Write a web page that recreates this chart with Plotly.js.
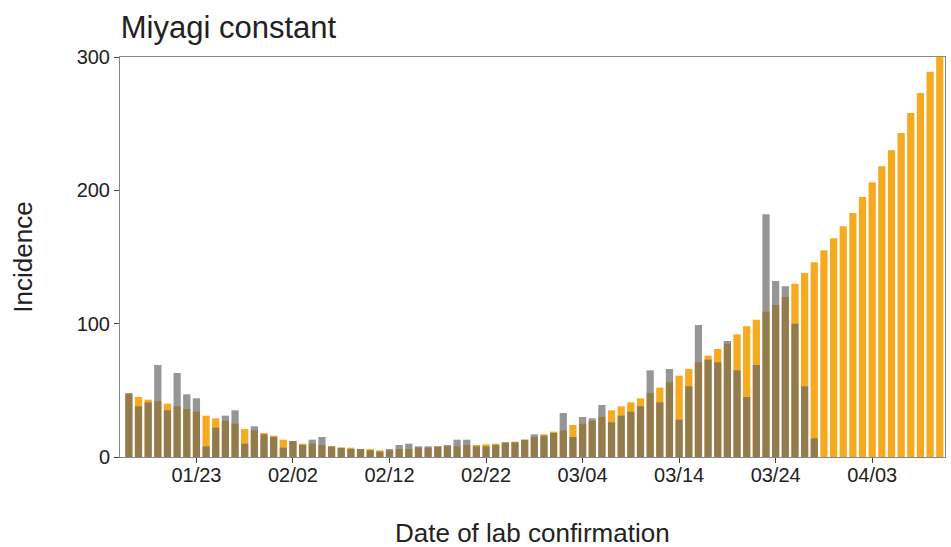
<!DOCTYPE html>
<html>
<head>
<meta charset="utf-8">
<script src="https://cdn.plot.ly/plotly-3.0.1.min.js"></script>
<style>html,body{margin:0;padding:0;background:#fff;}#chart{width:951px;height:547px;}</style>
</head>
<body>
<div id="chart"></div>
<script>
const dates = [
'2021-01-16','2021-01-17','2021-01-18','2021-01-19','2021-01-20','2021-01-21','2021-01-22','2021-01-23','2021-01-24','2021-01-25',
'2021-01-26','2021-01-27','2021-01-28','2021-01-29','2021-01-30','2021-01-31','2021-02-01','2021-02-02','2021-02-03','2021-02-04',
'2021-02-05','2021-02-06','2021-02-07','2021-02-08','2021-02-09','2021-02-10','2021-02-11','2021-02-12','2021-02-13','2021-02-14',
'2021-02-15','2021-02-16','2021-02-17','2021-02-18','2021-02-19','2021-02-20','2021-02-21','2021-02-22','2021-02-23','2021-02-24',
'2021-02-25','2021-02-26','2021-02-27','2021-02-28','2021-03-01','2021-03-02','2021-03-03','2021-03-04','2021-03-05','2021-03-06',
'2021-03-07','2021-03-08','2021-03-09','2021-03-10','2021-03-11','2021-03-12','2021-03-13','2021-03-14','2021-03-15','2021-03-16',
'2021-03-17','2021-03-18','2021-03-19','2021-03-20','2021-03-21','2021-03-22','2021-03-23','2021-03-24','2021-03-25','2021-03-26',
'2021-03-27','2021-03-28','2021-03-29','2021-03-30','2021-03-31','2021-04-01','2021-04-02','2021-04-03','2021-04-04','2021-04-05',
'2021-04-06','2021-04-07','2021-04-08','2021-04-09','2021-04-10'
];

// Model (constant) incidence, orange
const modelIncidence = [
47,45,43,42,40,38,36,34,31,29,
27,25,21,20,18,16,13,12,10,10,
9,8,7,7,6,6,5,5,6,6,
7,7,8,8,8,9,9,9.5,10,11,
11.5,13,15,17,19,20,24,25,27,30,
35,38,41,44,48,52,56,61,66,71,
76,81,85,92,98,103,109,114,120,130,
138,146,155,164,173,183,195,206,218,230,
243,258,273,289,300
];

// Observed incidence, gray (up to 03/28)
const observedDates = dates.slice(0, 72);
const observedIncidence = [
48,38,41,69,35,63,47,44,8,22,
31,35,10,23,17,15,7,12,9,13,
15,8,7,6,6,5,4,6,9,10,
8,8,8,9,13,13,8,8,9,11,
11,13,17,16,18,33,15,30,29,39,
26,31,34,38,65,41,66,28,53,99,
73,71,87,65,45,69,182,132,128,100,
53,14
];

const tickVals = ['2021-01-23','2021-02-02','2021-02-12','2021-02-22','2021-03-04','2021-03-14','2021-03-24','2021-04-03'];
const tickText = ['01/23','02/02','02/12','02/22','03/04','03/14','03/24','04/03'];

const font = 'Liberation Sans, Arial, sans-serif';

const traces = [
  {type:'bar', x: dates, y: modelIncidence, marker:{color:'rgb(245,170,32)'}, name:'model', hoverinfo:'x+y'},
  {type:'bar', x: observedDates, y: observedIncidence, marker:{color:'rgba(100,100,100,0.68)'}, name:'observed', hoverinfo:'x+y'}
];

const layout = {
  width: 951, height: 547,
  margin: {l:120, r:6, t:57, b:90},
  paper_bgcolor:'#fff', plot_bgcolor:'#fff',
  barmode:'overlay', bargap:0.25,
  showlegend:false,
  font:{family:font, color:'#222'},
  title:{text:'Miyagi constant', x:0.127, xanchor:'left', xref:'container', y:0.95, yanchor:'middle', yref:'container', font:{size:31, color:'#222', family:font}},
  xaxis:{
    type:'date', range:['2021-01-15 02:00','2021-04-10 13:00'],
    tickvals: tickVals, ticktext: tickText,
    ticks:'outside', ticklen:5, tickcolor:'#444',
    ticklabelstandoff:-5,
    showgrid:false, zeroline:false,
    showline:true, mirror:true, linecolor:'#888', linewidth:1,
    tickfont:{size:20, color:'#222'}
  },
  yaxis:{
    range:[0,300], tickvals:[0,100,200,300],
    ticks:'outside', ticklen:5, tickcolor:'#444',
    showgrid:false, zeroline:false,
    showline:true, mirror:true, linecolor:'#888', linewidth:1,
    tickfont:{size:20, color:'#222'},
    title:{text:'Incidence', font:{size:26, color:'#222'}, standoff:36}
  },
  annotations:[
    {text:'Date of lab confirmation', xref:'paper', yref:'paper', x:0.5, y:-0.19, xanchor:'center', yanchor:'middle', showarrow:false, font:{size:26, color:'#222', family:font}}
  ]
};

Plotly.newPlot('chart', traces, layout, {displayModeBar:false, staticPlot:true});
</script>
</body>
</html>
